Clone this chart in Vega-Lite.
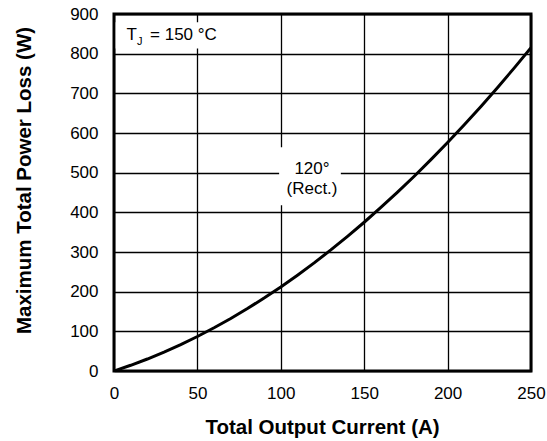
{
  "$schema": "https://vega.github.io/schema/vega-lite/v6.json",
  "width": 417,
  "height": 357,
  "autosize": {"type": "none"},
  "padding": {"left": 114, "top": 14, "right": 16, "bottom": 70},
  "background": "white",
  "config": {
    "font": "Liberation Sans",
    "view": {"stroke": "black", "strokeWidth": 3},
    "axis": {
      "domain": false,
      "ticks": false,
      "grid": true,
      "gridColor": "black",
      "gridOpacity": 1,
      "gridWidth": 1.3,
      "labelFont": "Liberation Sans",
      "labelFontSize": 17,
      "labelColor": "black",
      "titleFont": "Liberation Sans",
      "titleFontSize": 20.5,
      "titleFontWeight": "bold",
      "titleColor": "black",
      "labelFlush": false,
      "labelOverlap": false,
      "labelBound": false
    }
  },
  "datasets": {
    "curve": [
      {"x": 0, "y": 0}, {"x": 10, "y": 14.4}, {"x": 20, "y": 30.2}, {"x": 30, "y": 47.6},
      {"x": 40, "y": 66.6}, {"x": 50, "y": 87}, {"x": 60, "y": 109}, {"x": 70, "y": 132.4},
      {"x": 80, "y": 157.4}, {"x": 90, "y": 184}, {"x": 100, "y": 212}, {"x": 110, "y": 241.6},
      {"x": 120, "y": 272.6}, {"x": 130, "y": 305.2}, {"x": 140, "y": 339.4}, {"x": 150, "y": 375},
      {"x": 160, "y": 412.2}, {"x": 170, "y": 450.8}, {"x": 180, "y": 491}, {"x": 190, "y": 532.8},
      {"x": 200, "y": 576}, {"x": 210, "y": 620.8}, {"x": 220, "y": 667}, {"x": 230, "y": 714.8},
      {"x": 240, "y": 764.2}, {"x": 250, "y": 815}
    ],
    "boxes": [
      {"x": 1, "x2": 70, "y": 813, "y2": 879},
      {"x": 99, "x2": 136, "y": 418, "y2": 564}
    ],
    "leftText": [
      {"t": "T", "x": 7.5, "y": 834},
      {"t": "= 150 °C", "x": 21.6, "y": 834}
    ],
    "subText": [
      {"t": "J", "x": 13.8, "y": 821}
    ],
    "centerText": [
      {"t": "120°", "x": 118.7, "y": 497.6},
      {"t": "(Rect.)", "x": 118.7, "y": 447}
    ]
  },
  "encoding": {
    "x": {
      "field": "x", "type": "quantitative",
      "scale": {"domain": [0, 250], "nice": false},
      "axis": {
        "values": [0, 50, 100, 150, 200, 250],
        "title": "Total Output Current (A)",
        "labelPadding": 14,
        "titleX": 208,
        "titleY": 62,
        "titleBaseline": "alphabetic",
        "titleAlign": "center"
      }
    },
    "y": {
      "field": "y", "type": "quantitative",
      "scale": {"domain": [0, 900], "nice": false},
      "axis": {
        "values": [0, 100, 200, 300, 400, 500, 600, 700, 800, 900],
        "title": "Maximum Total Power Loss (W)",
        "labelPadding": 16,
        "titleX": -84,
        "titleY": 166,
        "titleAngle": -90,
        "titleBaseline": "alphabetic",
        "titleAlign": "center"
      }
    }
  },
  "layer": [
    {
      "data": {"name": "curve"},
      "mark": {"type": "line", "color": "black", "strokeWidth": 3, "clip": true}
    },
    {
      "data": {"name": "boxes"},
      "mark": {"type": "rect", "fill": "white"},
      "encoding": {
        "x2": {"field": "x2"},
        "y2": {"field": "y2"}
      }
    },
    {
      "data": {"name": "leftText"},
      "mark": {"type": "text", "align": "left", "baseline": "alphabetic", "fontSize": 17, "color": "black"},
      "encoding": {"text": {"field": "t"}}
    },
    {
      "data": {"name": "subText"},
      "mark": {"type": "text", "align": "left", "baseline": "alphabetic", "fontSize": 11, "color": "black"},
      "encoding": {"text": {"field": "t"}}
    },
    {
      "data": {"name": "centerText"},
      "mark": {"type": "text", "align": "center", "baseline": "alphabetic", "fontSize": 17, "color": "black"},
      "encoding": {"text": {"field": "t"}}
    }
  ]
}
